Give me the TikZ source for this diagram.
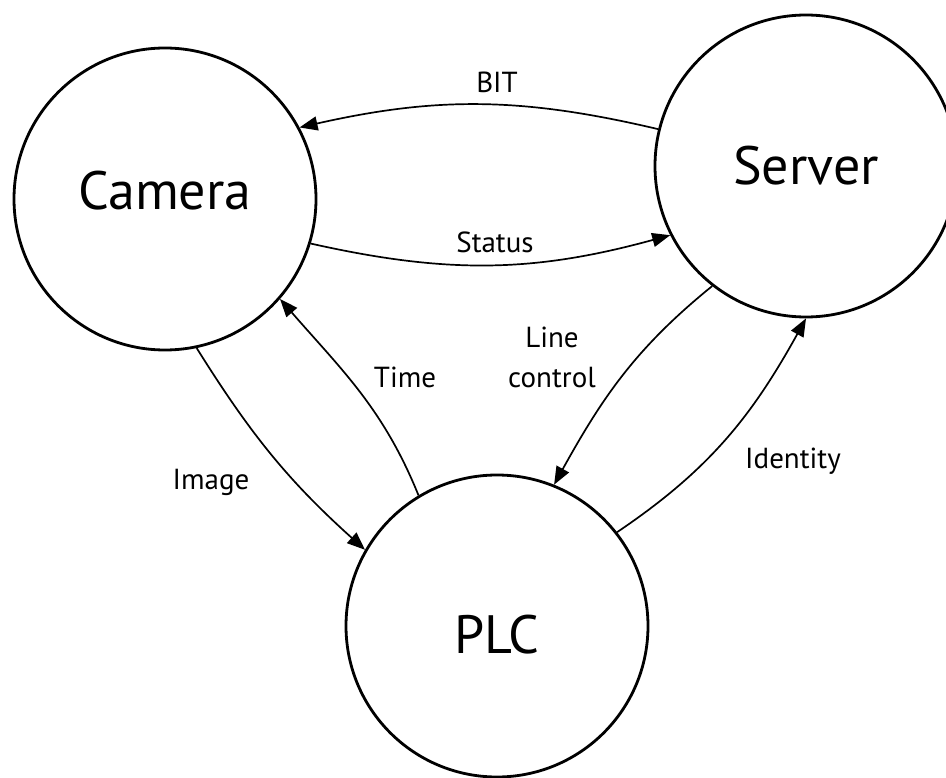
\documentclass[tikz,border=0pt]{standalone}
\usepackage{fontspec}
\setmainfont{PT Sans}
\usetikzlibrary{arrows.meta}
\begin{document}
\begin{tikzpicture}[x=1pt,y=-1pt,
  state/.style={draw,circle,line width=2.8pt,minimum size=302pt,inner sep=0pt,font=\fontsize{54}{60}\selectfont},
  lbl/.style={font=\fontsize{29}{32}\selectfont,anchor=base,inner sep=0pt},
  flow/.style={line width=1.7pt,-{Triangle[length=18pt,width=14pt]}}]
\useasboundingbox (0,0) rectangle (946,778);
\node[state,text height=22pt,text depth=0pt] (cam) at (165,199) {Camera};
\node[state,text height=38pt,text depth=0pt] (srv) at (806,166) {Server};
\node[state,text height=55pt,text depth=0pt] (plc) at (497,626) {PLC};

\draw[flow] (srv.166) to[bend right=13] (cam.28);
\draw[flow] (cam.-17) to[bend right=14] (srv.207);
\draw[flow] (plc.121) to[out=112,in=311] (cam.-41);
\draw[flow] (cam.-78) to[out=-58,in=138] (plc.150);
\draw[flow] (srv.232) to[out=219,in=61] (plc.68);
\draw[flow] (plc.38) to[out=34,in=241] (srv.-90);

\node[lbl] (lbit) at (497,93) {BIT};
\node[lbl] (lstatus) at (495,253) {Status};
\node[lbl] (ltime) at (405,388) {Time};
\node[lbl] (lline) at (552,348) {Line};
\node[lbl] (lcontrol) at (552,388) {control};
\node[lbl] (lidentity) at (793,468) {Identity};
\node[lbl] (limage) at (211,489) {Image};
\end{tikzpicture}
\end{document}
